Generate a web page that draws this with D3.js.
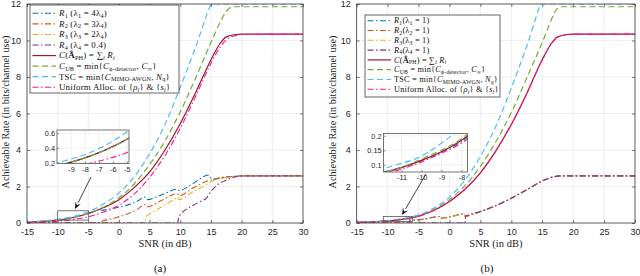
<!DOCTYPE html>
<html><head><meta charset="utf-8">
<script src="https://cdn.jsdelivr.net/npm/d3@7"></script>
<style>body{margin:0;background:#fff}</style>
</head><body>
<svg id="c" width="640" height="276"></svg>
<script>
// ---------- DATA ----------
const xTicks = [-15,-10,-5,0,5,10,15,20,25,30];
const yTicks = [0,2,4,6,8,10,12];

// Panel (a)
const tscA_snr = [-15,-12.5,-10,-7.5,-5,-2.5,0,2.5,5,7.5,10,12.5,14.9,15,20,25,30];
const tscA     = [0.06,0.11,0.2,0.35,0.62,1.05,1.65,2.55,3.8,5.4,7.45,9.65,11.92,12,12,12,12];
const cubA_snr = [-15,-12.5,-10,-7.5,-5,-2.5,0,2.5,5,7.5,10,12.5,15,16.5,17.5,18.5,20,25,30];
const cubA     = [0.05,0.09,0.16,0.3,0.52,0.88,1.38,2.15,3.2,4.5,6.1,7.95,9.9,11.0,11.6,11.85,11.85,11.85,11.85];
const capA_snr = [-15,-12.5,-10,-7.5,-5,-2.5,0,2.5,5,7.5,10,12.5,15,16.5,17.5,19,20,25,30];
const capA     = [0.05,0.09,0.16,0.3,0.52,0.85,1.28,1.95,2.8,4.0,5.45,7.15,8.95,9.85,10.2,10.33,10.35,10.35,10.35];
const uniA     = [0.03,0.055,0.1,0.2,0.34,0.6,0.98,1.6,2.5,3.7,5.2,6.95,8.75,9.65,10.05,10.27,10.33,10.35,10.35];
const r1A_snr = [-15,-12.5,-10,-7.5,-5,-3.2,-3,-1,1,3,4.2,4.5,7,9.5,9.8,12,14.6,15.2,17,19,20,30];
const r1A     = [0.05,0.09,0.16,0.3,0.52,0.72,0.7,0.8,0.95,1.2,1.42,1.28,1.55,1.85,1.78,2.15,2.63,2.4,2.5,2.56,2.58,2.58];
const r2A_snr = [-15,-3.2,-3,-1,1,3,4.2,4.5,7,9.5,9.8,12,14.5,15.5,17,19,20,30];
const r2A     = [0,0,0.06,0.25,0.45,0.75,1.0,0.88,1.25,1.6,1.5,1.9,2.32,2.4,2.5,2.56,2.58,2.58];
const r3A_snr = [-15,4.3,4.4,5,7,9.4,9.6,9.8,12,14.5,15.2,17,19,20,30];
const r3A     = [0,0,0.35,0.5,0.9,1.38,1.42,1.28,1.7,2.15,2.3,2.45,2.55,2.58,2.58];
const r4A_snr = [-15,9.6,9.7,10,12,13.2,14.3,14.6,15.9,17.5,18.6,20,30];
const r4A     = [0,0,0.3,0.45,0.95,1.17,1.38,1.55,2.05,2.35,2.5,2.58,2.58];

// Panel (b)
const tscB_snr = [-15,-12.5,-11.5,-10,-8.5,-7.5,-5,-2.5,0,2.5,5,7.5,10,12.5,14.6,14.7,20,25,30];
const tscB     = [0.045,0.075,0.095,0.13,0.2,0.25,0.45,0.82,1.42,2.35,3.65,5.3,7.4,9.7,11.9,12,12,12,12];
const cubB_snr = [-15,-12.5,-11.5,-10,-8,-5,-2.5,0,2.5,5,7.5,10,12.5,15,16.2,17,18,20,25,30];
const cubB     = [0.035,0.065,0.08,0.12,0.19,0.4,0.75,1.28,2.05,3.1,4.45,6.05,7.95,9.9,10.9,11.55,11.85,11.85,11.85,11.85];
const capB_snr = [-15,-12.5,-11.5,-10,-9,-8,-5,-2.5,0,2.5,5,7.5,10,12.5,15,16.5,17.5,19,20,25,30];
const capB     = [0.035,0.065,0.08,0.115,0.145,0.185,0.38,0.7,1.18,1.85,2.75,3.95,5.4,7.1,8.95,9.85,10.2,10.33,10.35,10.35,10.35];
const uniB     = [0.03,0.06,0.075,0.11,0.14,0.175,0.37,0.69,1.17,1.84,2.74,3.94,5.38,7.08,8.93,9.83,10.18,10.32,10.35,10.35,10.35];
const r1B_snr = [-15,-12.5,-10,-8,-6.5,-6.4,-4,-1.6,-1.5,0,2.4,2.5,5,7.5,10,12.5,15,16.5,18,30];
const r1B     = [0.035,0.065,0.115,0.18,0.25,0.14,0.22,0.36,0.26,0.33,0.5,0.38,0.63,0.95,1.36,1.82,2.3,2.5,2.58,2.58];
const r2B_snr = [-15,-6.5,-6.4,-4,-1.6,-1.5,0,2.4,2.5,5,7.5,10,12.5,15,16.5,18,30];
const r2B     = [0,0,0.14,0.22,0.36,0.26,0.33,0.5,0.38,0.63,0.95,1.36,1.82,2.3,2.5,2.58,2.58];
const r3B_snr = [-15,-1.5,-1.4,0,2.4,2.5,5,7.5,10,12.5,15,16.5,18,30];
const r3B     = [0,0,0.2,0.3,0.5,0.38,0.63,0.95,1.36,1.82,2.3,2.5,2.58,2.58];
const r4B_snr = [-15,2.5,2.6,5,7.5,10,12.5,15,16.5,18,30];
const r4B     = [0,0,0.36,0.63,0.95,1.36,1.82,2.3,2.5,2.58,2.58];

const legendA = ["*R*_{1} (λ_{1} = 4λ_{4})","*R*_{2} (λ_{2} = 3λ_{4})","*R*_{3} (λ_{3} = 2λ_{4})","*R*_{4} (λ_{4} = 0.4)",
  "*C*(!Â!_{PH}) = ∑_{*i*} *R*_{*i*}","*C*_{UB} = min{*C*_{ϕ-detector}, *C*_{∞}}","TSC = min{*C*_{MIMO-AWGN}, *N*_{q}}","Uniform Alloc. of {*ρ*_{*i*}} & {*s*_{*i*}}"];
const legendB = ["*R*_{1}(λ_{1} = 1)","*R*_{2}(λ_{2} = 1)","*R*_{3}(λ_{3} = 1)","*R*_{4}(λ_{4} = 1)",
  "*C*(!Â!_{PH}) = ∑_{*i*} *R*_{*i*}","*C*_{UB} = min{*C*_{ϕ-detector}, *C*_{∞}}","TSC = min{*C*_{MIMO-AWGN}, *N*_{q}}","Uniform Alloc. of {*ρ*_{*i*}} & {*s*_{*i*}}"];
const insetTicksA = {x:[-9,-8,-7,-6,-5], y:[0.2,0.4,0.6]};
const insetTicksB = {x:[-11,-10,-9,-8], y:[0.1,0.15,0.2]};
const xLabel = "SNR (in dB)";
const yLabel = "Achievable Rate (in bits/channel use)";

// ---------- STYLE ----------
const ST = {
  R1:{c:"#0072BD",d:"6,2.5,1.5,2.5",w:1.1}, R2:{c:"#D95319",d:"6,2.5,1.5,2.5",w:1.1},
  R3:{c:"#EDB120",d:"6,2.5,1.5,2.5",w:1.1}, R4:{c:"#7E2F8E",d:"6,2.5,1.5,2.5",w:1.1},
  C:{c:"#A2142F",d:null,w:1.2}, UB:{c:"#77AC30",d:"6,3.5",w:1.2},
  TSC:{c:"#4DBEEE",d:"6,3.5",w:1.2}, UNI:{c:"#FF1493",d:"6,2.5,1.5,2.5",w:1.1}
};
const AX="#262626", GRID="#e3e3e3";
const svg=d3.select("#c");
const zip=(xs,ys)=>xs.map((v,i)=>[v,ys[i]]);

function rich(t,str,size){
  const parts=str.split(/(_\{[^}]*\}|\*[^*]+\*|![^!]+!)/).filter(s=>s.length);
  let shift=0;
  parts.forEach(p=>{
    let sub=false,it=false,bold=false,txt=p;
    if(p.startsWith("_{")){sub=true;txt=p.slice(2,-1);}
    if(txt.startsWith("*")&&txt.endsWith("*")&&txt.length>2){it=true;txt=txt.slice(1,-1);}
    if(txt.startsWith("!")&&txt.endsWith("!")&&txt.length>2){bold=true;txt=txt.slice(1,-1);}
    const ts=t.append("tspan").text(txt);
    const want=sub?size*0.2:0;
    if(want!==shift){ts.attr("dy",want-shift);shift=want;}
    if(sub) ts.attr("font-size",size*0.7);
    if(it) ts.attr("font-style","italic");
    if(bold) ts.attr("font-weight","bold");
  });
}

function panel(P){
  const x=d3.scaleLinear().domain([-15,30]).range([P.left,P.right]);
  const y=d3.scaleLinear().domain([0,12]).range([223,4]);
  const g=svg.append("g");
  const cid="clip"+P.id;
  svg.append("clipPath").attr("id",cid).append("rect")
    .attr("x",P.left).attr("y",4).attr("width",P.right-P.left).attr("height",219);
  // grid
  g.append("g").selectAll("line").data(xTicks).join("line")
    .attr("x1",d=>x(d)).attr("x2",d=>x(d)).attr("y1",y(0)).attr("y2",y(12)).attr("stroke",GRID).attr("stroke-width",0.6);
  g.append("g").selectAll("line").data(yTicks).join("line")
    .attr("y1",d=>y(d)).attr("y2",d=>y(d)).attr("x1",x(-15)).attr("x2",x(30)).attr("stroke",GRID).attr("stroke-width",0.6);
  // axes
  const fmt=d=>String(d);
  g.append("g").attr("transform",`translate(0,${y(0)})`).call(d3.axisBottom(x).tickValues(xTicks).tickSize(-3).tickPadding(6).tickFormat(fmt));
  g.append("g").attr("transform",`translate(${x(-15)},0)`).call(d3.axisLeft(y).tickValues(yTicks).tickSize(-3).tickPadding(6).tickFormat(fmt));
  g.append("g").attr("transform",`translate(0,${y(12)})`).call(d3.axisTop(x).tickValues(xTicks).tickSize(-3).tickFormat(""));
  g.append("g").attr("transform",`translate(${x(30)},0)`).call(d3.axisRight(y).tickValues(yTicks).tickSize(-3).tickFormat(""));
  g.selectAll(".domain").remove();
  g.selectAll(".tick line").attr("stroke",AX).attr("stroke-width",0.6);
  g.selectAll(".tick text").attr("fill",AX).attr("font-family","Liberation Sans, Arial, sans-serif").attr("font-size",9);
  // series
  const line=(xs,ys)=>d3.line().x(d=>xs(d[0])).y(d=>ys(d[1])).curve(d3.curveMonotoneX);
  function drawSeries(gg,xs,ys,clip){
    const sg=gg.append("g").attr("clip-path",`url(#${clip})`);
    P.series.forEach(s=>{
      const st=ST[s.k];
      sg.append("path").attr("d",line(xs,ys)(zip(s.x,s.y))).attr("fill","none")
        .attr("stroke",st.c).attr("stroke-width",st.w).attr("stroke-dasharray",st.d);
    });
  }
  drawSeries(g,x,y,cid);
  g.append("rect").attr("x",x(-15)).attr("y",y(12)).attr("width",x(30)-x(-15)).attr("height",y(0)-y(12))
    .attr("fill","none").attr("stroke",AX).attr("stroke-width",0.7);
  // zoom rectangle
  g.append("rect").attr("x",x(P.zr[0])).attr("y",y(P.zr[3])).attr("width",x(P.zr[1])-x(P.zr[0])).attr("height",y(P.zr[2])-y(P.zr[3]))
    .attr("fill","none").attr("stroke","#555").attr("stroke-width",0.8);
  // labels
  g.append("text").attr("x",(P.left+P.right)/2).attr("y",247).attr("text-anchor","middle")
    .attr("font-family","Liberation Serif, serif").attr("font-size",10.5).attr("fill","#222").text(xLabel);
  g.append("text").attr("transform",`translate(${P.ylx},${112}) rotate(-90)`).attr("text-anchor","middle")
    .attr("font-family","Liberation Serif, serif").attr("font-size",10.2).attr("fill","#222").text(yLabel);
  g.append("text").attr("x",P.capx).attr("y",272).attr("text-anchor","middle")
    .attr("font-family","Liberation Serif, serif").attr("font-size",11).attr("fill","#111").text(P.cap);
  // inset
  const I=P.inset;
  const ix=d3.scaleLinear().domain(I.xd).range([I.x0,I.x1]);
  const iy=d3.scaleLinear().domain(I.yd).range([I.y1,I.y0]);
  const ig=svg.append("g");
  const icid="iclip"+P.id;
  svg.append("clipPath").attr("id",icid).append("rect").attr("x",I.x0).attr("y",I.y0).attr("width",I.x1-I.x0).attr("height",I.y1-I.y0);
  ig.append("rect").attr("x",I.x0).attr("y",I.y0).attr("width",I.x1-I.x0).attr("height",I.y1-I.y0).attr("fill","#fff");
  ig.append("g").selectAll("line").data(I.ticks.x).join("line").attr("x1",d=>ix(d)).attr("x2",d=>ix(d)).attr("y1",I.y0).attr("y2",I.y1).attr("stroke",GRID).attr("stroke-width",0.5);
  ig.append("g").selectAll("line").data(I.ticks.y).join("line").attr("y1",d=>iy(d)).attr("y2",d=>iy(d)).attr("x1",I.x0).attr("x2",I.x1).attr("stroke",GRID).attr("stroke-width",0.5);
  ig.append("g").attr("transform",`translate(0,${I.y1})`).call(d3.axisBottom(ix).tickValues(I.ticks.x).tickSize(-2).tickPadding(3).tickFormat(fmt));
  ig.append("g").attr("transform",`translate(${I.x0},0)`).call(d3.axisLeft(iy).tickValues(I.ticks.y).tickSize(-2).tickPadding(2).tickFormat(fmt));
  ig.selectAll(".domain").remove();
  ig.selectAll(".tick line").attr("stroke",AX).attr("stroke-width",0.5);
  ig.selectAll(".tick text").attr("fill",AX).attr("font-family","Liberation Sans, Arial, sans-serif").attr("font-size",7.3);
  drawSeries(ig,ix,iy,icid);
  ig.append("rect").attr("x",I.x0).attr("y",I.y0).attr("width",I.x1-I.x0).attr("height",I.y1-I.y0).attr("fill","none").attr("stroke","#666").attr("stroke-width",0.9);
  // arrow
  const a=P.arrow;
  const ang=Math.atan2(a[3]-a[1],a[2]-a[0]);
  const L=7,Wd=3;
  const bx=a[2]-L*Math.cos(ang), by=a[3]-L*Math.sin(ang);
  ig.append("line").attr("x1",a[0]).attr("y1",a[1]).attr("x2",bx).attr("y2",by).attr("stroke","#111").attr("stroke-width",0.8);
  ig.append("path").attr("d",`M${a[2]},${a[3]}L${bx+Wd*Math.sin(ang)},${by-Wd*Math.cos(ang)}L${a[2]-0.6*L*Math.cos(ang)},${a[3]-0.6*L*Math.sin(ang)}L${bx-Wd*Math.sin(ang)},${by+Wd*Math.cos(ang)}Z`).attr("fill","#111");
  // legend
  const Lg=P.legend;
  const lg=svg.append("g");
  lg.append("rect").attr("x",Lg.x0).attr("y",Lg.y0).attr("width",Lg.x1-Lg.x0).attr("height",Lg.y1-Lg.y0).attr("fill","#fff").attr("stroke",AX).attr("stroke-width",0.7);
  P.series.forEach((s,i)=>{
    const st=ST[s.k]; const yy=Lg.r0+i*Lg.dr;
    lg.append("line").attr("x1",Lg.x0+2.5).attr("x2",Lg.x0+26).attr("y1",yy).attr("y2",yy).attr("stroke",st.c).attr("stroke-width",st.w).attr("stroke-dasharray",st.d);
    const t=lg.append("text").attr("x",Lg.x0+29).attr("y",yy+Lg.fs*0.32).attr("font-family","Liberation Serif, serif")
      .attr("font-size",Lg.fs).attr("letter-spacing",Lg.ls).attr("fill","#111");
    rich(t,P.labels[i],Lg.fs);
  });
}

panel({id:"a",left:27,right:303,ylx:9,capx:160,cap:"(a)",
  series:[{k:"R1",x:r1A_snr,y:r1A},{k:"R2",x:r2A_snr,y:r2A},{k:"R3",x:r3A_snr,y:r3A},{k:"R4",x:r4A_snr,y:r4A},
          {k:"C",x:capA_snr,y:capA},{k:"UB",x:cubA_snr,y:cubA},{k:"TSC",x:tscA_snr,y:tscA},{k:"UNI",x:capA_snr,y:uniA}],
  labels:legendA, zr:[-10,-5,0.16,0.67],
  inset:{x0:57,x1:129,y0:130,y1:163.5,xd:[-10,-4.85],yd:[0.19,0.645],ticks:insetTicksA},
  arrow:[91,177,75,209],
  legend:{x0:30,x1:179,y0:5,y1:93,r0:13.3,dr:10.57,fs:8.9,ls:0.2}});
panel({id:"b",left:356.7,right:635,ylx:336,capx:487,cap:"(b)",
  series:[{k:"R1",x:r1B_snr,y:r1B},{k:"R2",x:r2B_snr,y:r2B},{k:"R3",x:r3B_snr,y:r3B},{k:"R4",x:r4B_snr,y:r4B},
          {k:"C",x:capB_snr,y:capB},{k:"UB",x:cubB_snr,y:cubB},{k:"TSC",x:tscB_snr,y:tscB},{k:"UNI",x:capB_snr,y:uniB}],
  labels:legendB, zr:[-10.7,-6.0,0.08,0.36],
  inset:{x0:383.5,x1:467.5,y0:133.5,y1:172,xd:[-11.9,-7.7],yd:[0.075,0.208],ticks:insetTicksB},
  arrow:[426,174,402,215],
  legend:{x0:365,x1:500,y0:15,y1:97,r0:20.7,dr:9.8,fs:8.3,ls:0.2}});
</script></body></html>
